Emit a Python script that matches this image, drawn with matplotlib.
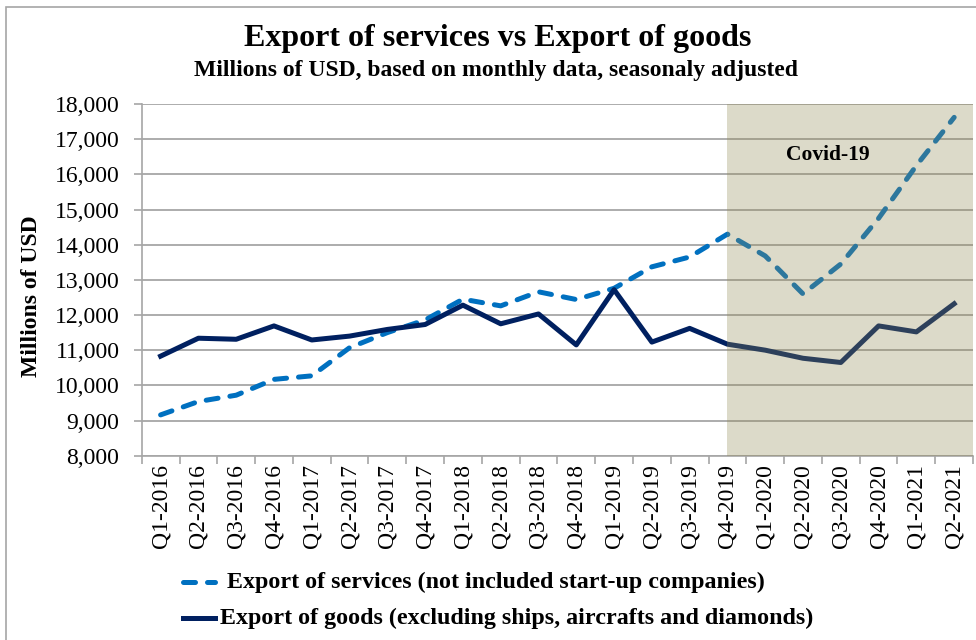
import matplotlib
matplotlib.use("Agg")
import matplotlib.pyplot as plt
from matplotlib.lines import Line2D
from matplotlib.patches import Rectangle

plt.rcParams['font.family'] = ['Liberation Serif', 'DejaVu Serif']

quarters = ["Q1-2016", "Q2-2016", "Q3-2016", "Q4-2016",
            "Q1-2017", "Q2-2017", "Q3-2017", "Q4-2017",
            "Q1-2018", "Q2-2018", "Q3-2018", "Q4-2018",
            "Q1-2019", "Q2-2019", "Q3-2019", "Q4-2019",
            "Q1-2020", "Q2-2020", "Q3-2020", "Q4-2020",
            "Q1-2021", "Q2-2021"]

services = [9160, 9540, 9720, 10170, 10270, 11070, 11500, 11860,
            12450, 12260, 12660, 12440, 12760, 13370, 13650, 14300,
            13680, 12600, 13450, 14750, 16250, 17620]

goods = [10830, 11340, 11310, 11690, 11290, 11400, 11590, 11730,
         12280, 11750, 12030, 11150, 12720, 11230, 11620, 11170,
         11000, 10770, 10650, 11690, 11520, 12320]

services_label = "Export of services (not included start-up companies)"
goods_label = "Export of goods (excluding ships, aircrafts and diamonds)"
covid_start = "Q4-2019"

W, H = 976, 640
fig = plt.figure(figsize=(W / 100, H / 100), dpi=100)
ax = fig.add_axes([0.1452, 0.288, 0.8518, 0.5495])

svc_style = dict(color="#0070C0", lw=3.6, linestyle=(0, (2.4, 2.4)),
                 dash_capstyle="round")
gds_style = dict(color="#002060", lw=3.6)

x = list(range(len(quarters)))
ax.plot(x, services, zorder=3, **svc_style)
ax.plot(x, goods, zorder=3, **gds_style)

# covid period shading sits on top of the lines
ax.axvspan(quarters.index(covid_start), len(quarters) - 0.5,
           color=(146 / 255, 137 / 255, 83 / 255), alpha=0.314, lw=0, zorder=4)
ax.text(17.65, 16550, "Covid-19", fontsize=15.5, fontweight="bold",
        ha="center", va="center", zorder=5)

ax.set_xlim(-0.5, len(quarters) - 0.5)
ax.set_ylim(8000, 18000)
ax.set_yticks(range(8000, 18001, 1000))
ax.yaxis.set_major_formatter(matplotlib.ticker.FuncFormatter(lambda v, p: f"{int(v):,}"))
ax.grid(axis="y", color="#A6A6A6", lw=1.3, zorder=0)
ax.set_axisbelow(True)

ax.set_xticks([i - 0.5 for i in range(len(quarters) + 1)])
ax.set_xticklabels([])
ax.set_xticks(x, minor=True)
ax.set_xticklabels(quarters, minor=True, rotation=90, fontsize=17)
ax.tick_params(axis="x", which="major", length=6, color="#A6A6A6", width=1.2)
ax.tick_params(axis="x", which="minor", length=0, pad=6)
ax.tick_params(axis="y", length=6, color="#A6A6A6", width=1.2, labelsize=17, pad=10)

for side in ["top", "right"]:
    ax.spines[side].set_visible(False)
for side in ["left", "bottom"]:
    ax.spines[side].set_color("#A6A6A6")
    ax.spines[side].set_linewidth(1.2)

ax.set_ylabel("Millions of USD", fontsize=17, fontweight="bold")
ax.yaxis.set_label_coords(-0.12, 0.454)

fig.text(0.51, 0.94, "Export of services vs Export of goods", fontsize=23,
         fontweight="bold", ha="center", va="center")
fig.text(0.508, 0.89, "Millions of USD, based on monthly data, seasonaly adjusted",
         fontsize=17, fontweight="bold", ha="center", va="center")

# legend, laid out by hand in pixel positions
for (y_px, text_x, label, style) in [(582, 227, services_label, svc_style),
                                     (618, 220, goods_label, gds_style)]:
    fig.add_artist(Line2D([183 / W, 215 / W], [1 - y_px / H] * 2,
                          transform=fig.transFigure, **style))
    fig.text(text_x / W, 1 - y_px / H, label, fontsize=17.3, fontweight="bold",
             ha="left", va="center")

fig.add_artist(Rectangle((6 / W, -0.1), 2, 1.1 - 7 / H, transform=fig.transFigure,
                         fill=False, edgecolor="#A6A6A6", lw=1.2))

fig.savefig("out.png", dpi=100)
